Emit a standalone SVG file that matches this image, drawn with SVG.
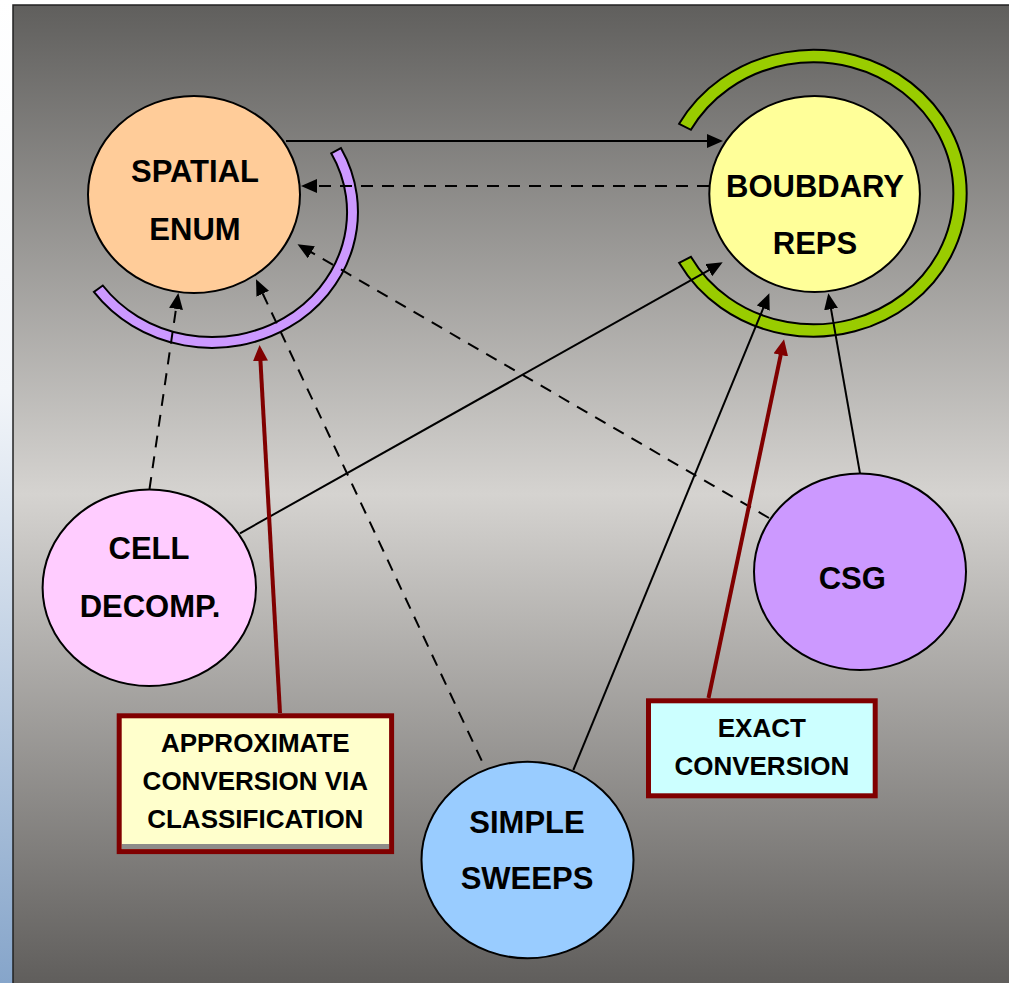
<svg xmlns="http://www.w3.org/2000/svg" width="1009" height="983" viewBox="0 0 1009 983">
  <defs>
    <linearGradient id="strip" x1="0" y1="0" x2="0" y2="983" gradientUnits="userSpaceOnUse">
      <stop offset="0" stop-color="#ffffff"/>
      <stop offset="0.4" stop-color="#f2f5f9"/>
      <stop offset="1" stop-color="#86a5ca"/>
    </linearGradient>
    <linearGradient id="panel" x1="0" y1="5" x2="0" y2="983" gradientUnits="userSpaceOnUse">
      <stop offset="0" stop-color="#605f5d"/>
      <stop offset="0.5" stop-color="#d5d3d0"/>
      <stop offset="1" stop-color="#605e5c"/>
    </linearGradient>
    <marker id="ah" markerUnits="userSpaceOnUse" markerWidth="16" markerHeight="14" refX="13" refY="7" orient="auto" viewBox="0 0 16 14">
      <path d="M0,0 L16,7 L0,14 Z" fill="#000"/>
    </marker>
    <marker id="ahr" markerUnits="userSpaceOnUse" markerWidth="16" markerHeight="15" refX="10" refY="7.5" orient="auto" viewBox="0 0 16 15">
      <path d="M0,0 L16,7.5 L0,15 Z" fill="#800000"/>
    </marker>
  </defs>
  <style>
    .node { stroke: #000; stroke-width: 2; }
    .arc { stroke: #000; stroke-width: 2; }
    .conn { fill: none; stroke: #000; stroke-width: 2; marker-end: url(#ah); }
    .dash { stroke-dasharray: 12 9; }
    .red { fill: none; stroke: #800000; stroke-width: 4; marker-end: url(#ahr); }
    .box { stroke: #800000; stroke-width: 5; }
    .t { font-family: "Liberation Sans", Arial, sans-serif; font-weight: bold; font-size: 31px; fill: #000; text-anchor: middle; }
    .l { font-family: "Liberation Sans", Arial, sans-serif; font-weight: bold; font-size: 26px; fill: #000; text-anchor: middle; }
  </style>

  <rect x="0" y="0" width="1009" height="983" fill="#ffffff"/>
  <rect x="0" y="0" width="13" height="983" fill="url(#strip)"/>
  <rect x="13" y="5" width="1010" height="1000" fill="url(#panel)" stroke="#222" stroke-width="1.5"/>

  <g id="arc-spatial">
    <path class="arc" fill="#cc99ff" d="M340.9,148.1 A146,136 0 0 1 93.9,291.9 L102.8,285.5 A135,125 0 0 0 331.2,153.3 Z"/>
  </g>
  <g id="arc-boundary">
    <path class="arc" fill="#99cc00" d="M679.1,123.8 A153.4,143.4 0 1 1 679.1,262.8 L690.9,256.8 A140,131 0 1 0 690.9,129.8 Z"/>
  </g>

  <g id="connectors">
    <line class="conn" x1="286" y1="141" x2="720" y2="141"/>
    <line class="conn dash" x1="709" y1="186" x2="304" y2="186"/>
    <line class="conn dash" x1="149.5" y1="489" x2="177.9" y2="296"/>
    <line class="conn dash" x1="481.7" y1="760.7" x2="257.3" y2="282"/>
    <line class="conn dash" x1="769" y1="518" x2="300.1" y2="245.8"/>
    <line class="conn" x1="240" y1="533.3" x2="720.1" y2="263.8"/>
    <line class="conn" x1="573.3" y1="770" x2="768.2" y2="296.1"/>
    <line class="conn" x1="860" y1="473.3" x2="828.8" y2="296.3"/>
    <line class="red" x1="280" y1="713" x2="259.9" y2="351"/>
    <line class="red" x1="708.5" y1="698" x2="782.8" y2="345.2"/>
  </g>

  <g id="spatial-enum">
    <ellipse class="node" cx="194" cy="194.5" rx="106" ry="98.5" fill="#ffcc99"/>
    <text class="t" x="195" y="181.7">SPATIAL</text>
    <text class="t" x="195" y="240">ENUM</text>
  </g>
  <g id="boundary-reps">
    <ellipse class="node" cx="814.6" cy="194" rx="105.3" ry="98" fill="#ffff99"/>
    <text class="t" x="815" y="196.7">BOUBDARY</text>
    <text class="t" x="815" y="254.3">REPS</text>
  </g>
  <g id="cell-decomp">
    <ellipse class="node" cx="149.3" cy="587.7" rx="106.7" ry="98.3" fill="#ffccff"/>
    <text class="t" x="149" y="559.3">CELL</text>
    <text class="t" x="150" y="617.3">DECOMP.</text>
  </g>
  <g id="csg">
    <ellipse class="node" cx="860" cy="571.7" rx="106" ry="98.3" fill="#cc99ff"/>
    <text class="t" x="852.3" y="589.3">CSG</text>
  </g>
  <g id="simple-sweeps">
    <ellipse class="node" cx="527.5" cy="860" rx="106" ry="98.3" fill="#99ccff"/>
    <text class="t" x="527" y="832.7">SIMPLE</text>
    <text class="t" x="527" y="889">SWEEPS</text>
  </g>

  <g id="label-approx">
    <rect x="119.2" y="715.8" width="272.4" height="135.8" fill="#ffffcc"/>
    <rect x="121.7" y="844" width="267.6" height="5.3" fill="#8e8c8a"/>
    <rect class="box" x="119.2" y="715.8" width="272.4" height="135.8" fill="none"/>
    <text class="l" x="255.3" y="751.7">APPROXIMATE</text>
    <text class="l" x="255.3" y="790">CONVERSION VIA</text>
    <text class="l" x="255.3" y="828.3">CLASSIFICATION</text>
  </g>
  <g id="label-exact">
    <rect class="box" x="648.5" y="700.8" width="226.7" height="95" fill="#ccffff"/>
    <text class="l" x="761.8" y="737.3">EXACT</text>
    <text class="l" x="761.8" y="775">CONVERSION</text>
  </g>
</svg>
